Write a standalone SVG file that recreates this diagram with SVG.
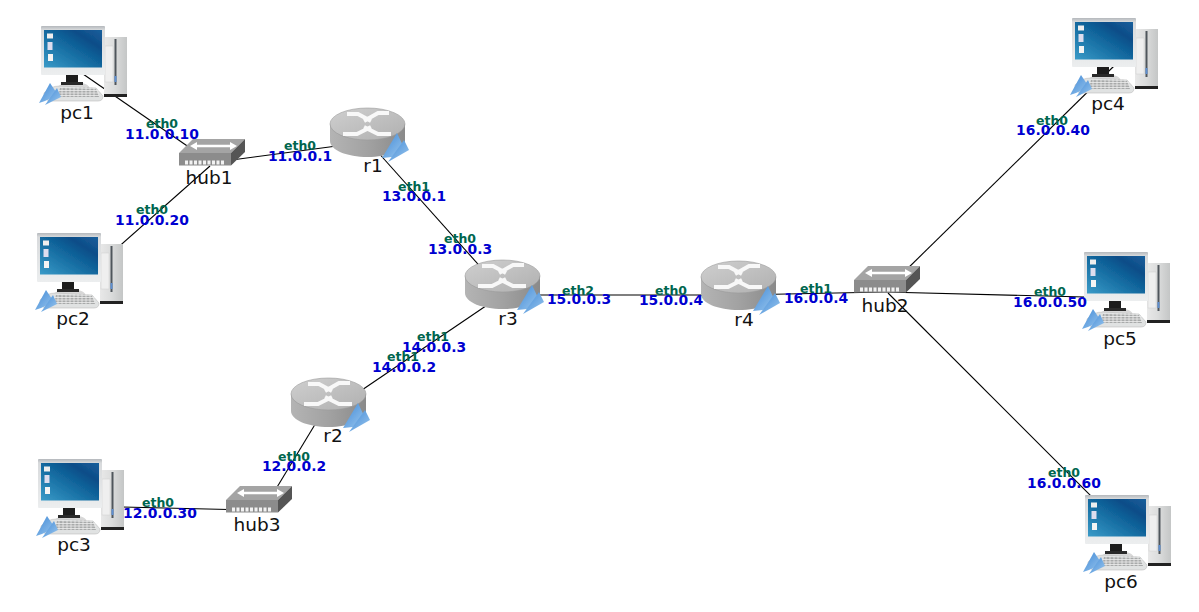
<svg xmlns="http://www.w3.org/2000/svg" width="1199" height="612" viewBox="0 0 1199 612">
<style>
text{font-family:"DejaVu Sans",sans-serif;text-anchor:middle}
.n{font-size:18.500px;fill:#111}
.e{font-size:12.500px;font-weight:bold;fill:#00664f}
.i{font-size:13.900px;font-weight:bold;fill:#0000d0}
.c{stroke:#000;stroke-width:1.100;fill:none}
</style>
<defs>
<filter id="soft" x="-5%" y="-5%" width="110%" height="110%"><feGaussianBlur stdDeviation="0.35"/></filter>
<linearGradient id="scr" x1="0" y1="1" x2="1" y2="0"><stop offset="0" stop-color="#3a9bc8"/><stop offset="0.5" stop-color="#12689e"/><stop offset="0.75" stop-color="#0d4d88"/><stop offset="1" stop-color="#1a5f9c"/></linearGradient>
<linearGradient id="mon" x1="0" y1="0" x2="0" y2="1"><stop offset="0" stop-color="#b4b8bc"/><stop offset="0.08" stop-color="#d8dadc"/><stop offset="1" stop-color="#eceeef"/></linearGradient>
<linearGradient id="tow" x1="0" y1="0" x2="1" y2="0"><stop offset="0" stop-color="#e8e8e8"/><stop offset="0.45" stop-color="#dcdddd"/><stop offset="1" stop-color="#c4c6c6"/></linearGradient>
<linearGradient id="blu" x1="0" y1="0" x2="1" y2="1"><stop offset="0" stop-color="#3f88d6"/><stop offset="1" stop-color="#9cc8ee"/></linearGradient>
<linearGradient id="body" x1="0" y1="0" x2="1" y2="0"><stop offset="0" stop-color="#b4b4b4"/><stop offset="0.5" stop-color="#a2a2a2"/><stop offset="1" stop-color="#8a8a8a"/></linearGradient>
<linearGradient id="top" x1="0" y1="0" x2="1" y2="1"><stop offset="0" stop-color="#cfcfcf"/><stop offset="1" stop-color="#b0b0b0"/></linearGradient>
<g id="pc" filter="url(#soft)">
<rect x="104" y="37" width="23" height="59" fill="url(#tow)"/>
<rect x="105" y="46" width="8" height="36" fill="#efefef" stroke="#cfcfcf" stroke-width="0.5"/>
<rect x="114.500" y="39" width="2" height="46" fill="#50565c"/>
<rect x="114.500" y="76" width="2" height="6" fill="#5f8fd0"/>
<rect x="104" y="94" width="23" height="3" fill="#222"/>
<path d="M57 88 Q60 83 70 83 H82 Q88 84 90 88 Z" fill="#d8d8d8"/>
<rect x="66" y="74" width="12" height="9" fill="#1c1c1c"/>
<rect x="61" y="82" width="22" height="3" fill="#2a2a2a"/>
<rect x="41" y="26" width="64" height="49" rx="1" fill="url(#mon)"/>
<rect x="44" y="30" width="58" height="37.500" fill="url(#scr)"/>
<rect x="47" y="33.500" width="6" height="5" fill="#eee"/>
<rect x="47.500" y="42" width="5" height="8" fill="#dde"/>
<rect x="48" y="54" width="5" height="7" fill="#f4f4f4"/>
<path d="M44 93 Q50 86 60 86 L96 88 L103 96 Q103 101 98 101 L50 101 Q44 100 44 93Z" fill="#e0e2e2" stroke="#bcbcbc" stroke-width="0.6"/>
<polygon points="60,88 96,89 99,97 58,97" fill="#a8aaaa"/>
<path d="M58 90.500H99M58 93H99M58 95.500H99" stroke="#eee" stroke-width="0.8"/>
<path d="M62 87V97M66 87V97M70 87V97M74 87V97M78 87V97M82 87V97M86 87V97M90 87V97M94 87V97" stroke="#eee" stroke-width="0.8"/>
<polygon points="39,103 50,83 58,95 45,101" fill="url(#blu)"/>
<polygon points="45,105 57,88 61,97" fill="url(#blu)"/>
</g>
<g id="router" filter="url(#soft)">
<path d="M330 124 V141 C330 150 347 157 367.500 157 C388 157 405 150 405 141 V124 Z" fill="url(#body)"/>
<ellipse cx="367.500" cy="124" rx="37.500" ry="16" fill="url(#top)" stroke="#9a9a9a" stroke-width="0.6"/>
<path d="M347 114 H358 L371 121 M389 113 H378 L364 121 M343 134 H357 L371 127 M391 134 H378 L364 127" fill="none" stroke="#f8f8f8" stroke-width="4"/>
<polygon points="382,158 397,133 404,148 392,157" fill="url(#blu)"/>
<polygon points="388,162 404,140 409,150" fill="url(#blu)"/>
</g>
<g id="hub" filter="url(#soft)">
<polygon points="179,153 193,139 245,139 231,153" fill="#a4a4a4"/>
<rect x="179" y="153" width="52" height="12.500" fill="#8c8c8c"/>
<polygon points="231,153 245,139 245,152 231,165.500" fill="#555"/>
<path d="M194 146 H233" stroke="#fff" stroke-width="2.500"/>
<polygon points="190,146 197,142 197,150" fill="#fff"/>
<polygon points="237,146 230,142 230,150" fill="#fff"/>
<path d="M185 160.500h3v4h-3zM189.500 160.500h3v4h-3zM194 160.500h3v4h-3zM198.500 160.500h3v4h-3zM203 160.500h3v4h-3zM207.500 160.500h3v4h-3zM212 160.500h3v4h-3zM216.500 160.500h3v4h-3zM221 160.500h3v4h-3z" fill="#f2f2f2"/>
</g>
</defs>
<g id="connectors" class="c">
<line x1="83" y1="74" x2="209" y2="161"/>
<line x1="80" y1="281" x2="210" y2="166"/>
<line x1="80" y1="506" x2="250" y2="510"/>
<line x1="209" y1="163" x2="367" y2="142"/>
<line x1="367" y1="140" x2="502" y2="291"/>
<line x1="502" y1="295" x2="328" y2="413"/>
<line x1="328" y1="403" x2="265" y2="507"/>
<line x1="502" y1="295" x2="738" y2="295"/>
<line x1="738" y1="295" x2="885" y2="292"/>
<line x1="1114" y1="66" x2="900" y2="276"/>
<line x1="885" y1="292" x2="1125" y2="298"/>
<line x1="888" y1="293" x2="1120" y2="525"/>
</g>
<g id="pc1"><use href="#pc"/><text class="n" x="77" y="119">pc1</text></g>
<g id="pc2"><use href="#pc" transform="translate(-4,207)"/><text class="n" x="73" y="325">pc2</text></g>
<g id="pc3"><use href="#pc" transform="translate(-3,433)"/><text class="n" x="74" y="551">pc3</text></g>
<g id="pc4"><use href="#pc" transform="translate(1031,-8)"/><text class="n" x="1108" y="110">pc4</text></g>
<g id="pc5"><use href="#pc" transform="translate(1043,226)"/><text class="n" x="1120" y="345">pc5</text></g>
<g id="pc6"><use href="#pc" transform="translate(1044,469)"/><text class="n" x="1121" y="588">pc6</text></g>
<g id="hub1"><use href="#hub"/><text class="n" x="209" y="184">hub1</text></g>
<g id="hub2"><use href="#hub" transform="translate(675,127)"/><text class="n" x="885" y="312">hub2</text></g>
<g id="hub3"><use href="#hub" transform="translate(47,347)"/><text class="n" x="257" y="531">hub3</text></g>
<g id="r1"><use href="#router"/><text class="n" x="373" y="172">r1</text></g>
<g id="r2"><use href="#router" transform="translate(-39,270)"/><text class="n" x="333" y="442">r2</text></g>
<g id="r3"><use href="#router" transform="translate(135,152)"/><text class="n" x="508" y="325">r3</text></g>
<g id="r4"><use href="#router" transform="translate(371,153)"/><text class="n" x="744" y="326">r4</text></g>
<g id="labels">
<text class="e" x="162" y="128">eth0</text><text class="i" x="162" y="139">11.0.0.10</text>
<text class="e" x="300" y="150">eth0</text><text class="i" x="300" y="161">11.0.0.1</text>
<text class="e" x="414" y="191">eth1</text><text class="i" x="414" y="201">13.0.0.1</text>
<text class="e" x="460" y="243">eth0</text><text class="i" x="460" y="254">13.0.0.3</text>
<text class="e" x="578" y="295">eth2</text><text class="i" x="579" y="304">15.0.0.3</text>
<text class="e" x="671" y="295">eth0</text><text class="i" x="671" y="305">15.0.0.4</text>
<text class="e" x="816" y="293">eth1</text><text class="i" x="816" y="303">16.0.0.4</text>
<text class="e" x="433" y="341">eth1</text><text class="i" x="434" y="352">14.0.0.3</text>
<text class="e" x="403" y="361">eth1</text><text class="i" x="404" y="372">14.0.0.2</text>
<text class="e" x="294" y="461">eth0</text><text class="i" x="294" y="471">12.0.0.2</text>
<text class="e" x="158" y="507">eth0</text><text class="i" x="160" y="518">12.0.0.30</text>
<text class="e" x="152" y="214">eth0</text><text class="i" x="152" y="225">11.0.0.20</text>
<text class="e" x="1052" y="125">eth0</text><text class="i" x="1053" y="135">16.0.0.40</text>
<text class="e" x="1050" y="296">eth0</text><text class="i" x="1050" y="307">16.0.0.50</text>
<text class="e" x="1064" y="477">eth0</text><text class="i" x="1064" y="488">16.0.0.60</text>
</g>
</svg>
